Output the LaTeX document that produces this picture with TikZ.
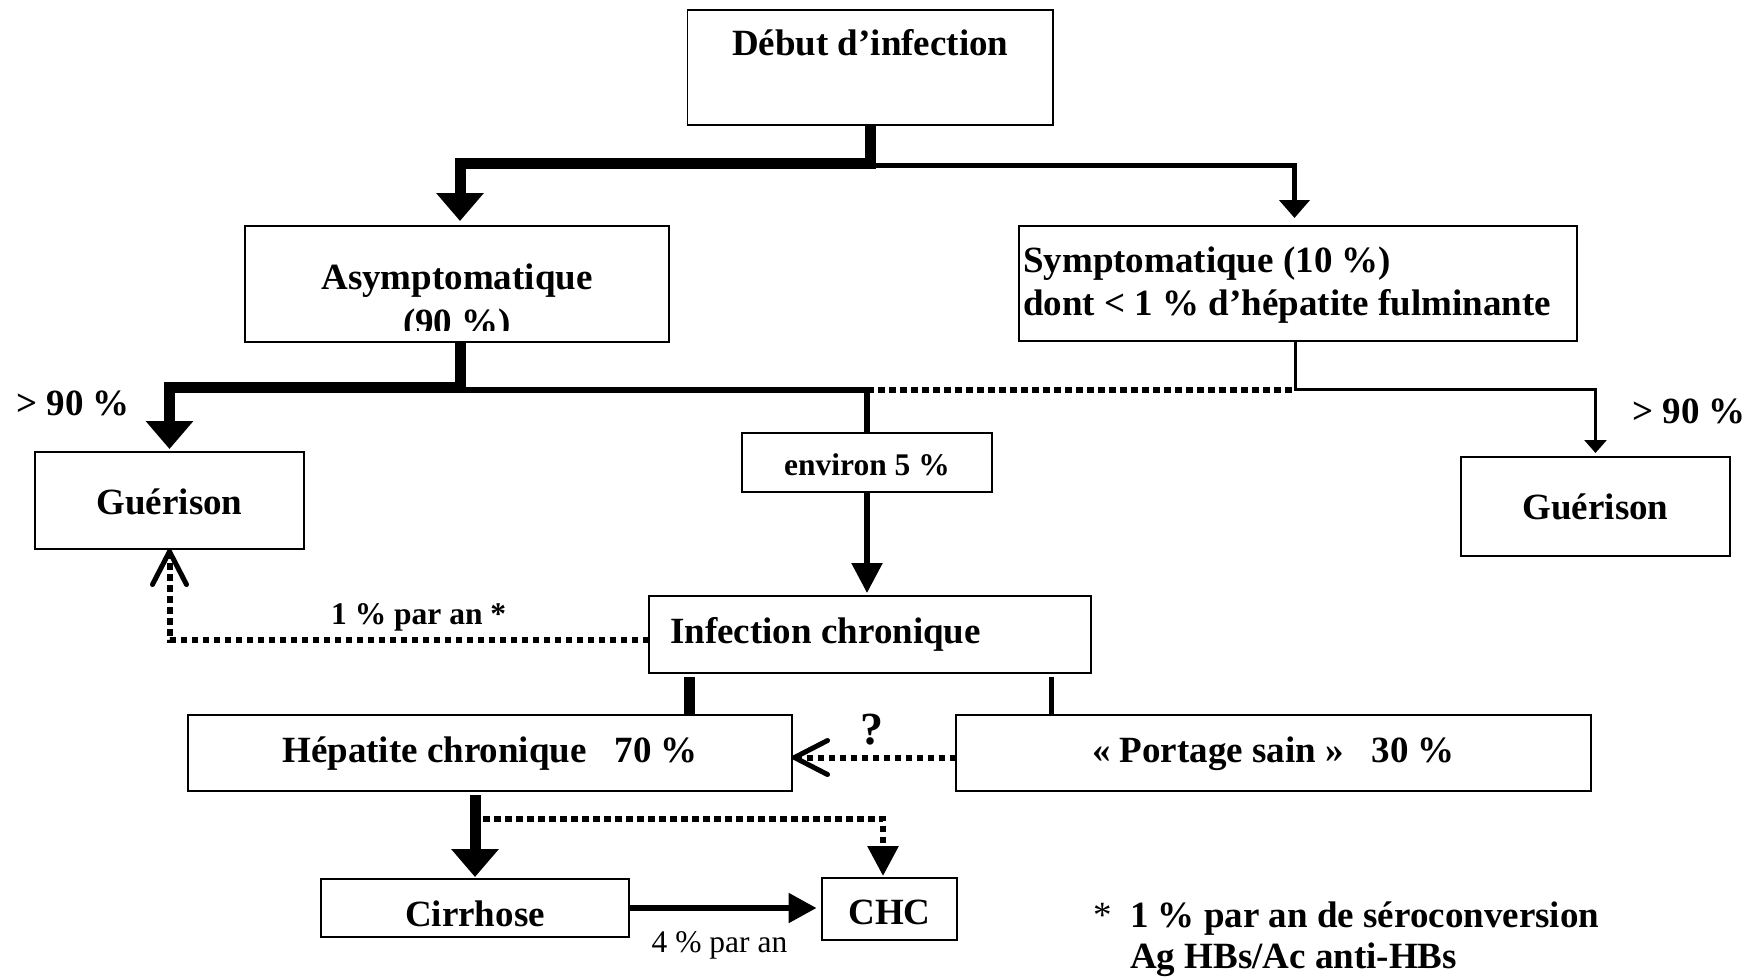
\documentclass[tikz,border=0pt]{standalone}
\usepackage{fontspec}
\setmainfont{Liberation Serif}
\usetikzlibrary{arrows.meta}
\begin{document}
\begin{tikzpicture}[x=1pt,y=-1pt,
  box/.style={draw,line width=1.8pt,fill=white,inner sep=0pt,outer sep=0pt},
  txt/.style={inner sep=0pt,anchor=base,font=\bfseries\fontsize{37}{44}\selectfont},
  txtl/.style={txt,anchor=base west},
  smalltxt/.style={inner sep=0pt,anchor=base west,font=\bfseries\fontsize{31.5}{38}\selectfont},
  smallreg/.style={inner sep=0pt,anchor=base west,font=\fontsize{31.5}{38}\selectfont},
  bigline/.style={line width=11pt,line join=miter},
  medline/.style={line width=5.5pt,line join=miter},
  thinline/.style={line width=3pt,line join=miter},
  dotline/.style={line width=6pt,dash pattern=on 6.5pt off 4.5pt},
  bigtip/.style={-{Triangle[width=46pt,length=28pt]}},
  toptip/.style={-{Triangle[width=30pt,length=18pt]}},
  medtip/.style={-{Triangle[width=30pt,length=30pt]}},
  smalltip/.style={-{Triangle[width=22pt,length=13pt]}},
  cirrtip/.style={-{Triangle[width=29pt,length=28pt]}},
  opentip/.style={-{Straight Barb[width=34pt,length=33pt,line width=5pt,round]}}
]
\useasboundingbox (0,0) rectangle (1762,978);
% boxes
\node[box,minimum width=365.5pt,minimum height=115pt] (debut) at (870.25,67.5) {};
\node[box,minimum width=424pt,minimum height=116pt] (asym) at (457,284) {};
\node[box,minimum width=558pt,minimum height=115pt] (sympt) at (1298,283.5) {};
\node[box,minimum width=269pt,minimum height=97pt] (guerL) at (169.5,500.5) {};
\node[box,minimum width=250pt,minimum height=59pt] (environ) at (867,462.5) {};
\node[box,minimum width=269pt,minimum height=99pt] (guerR) at (1595.5,506.5) {};
\node[box,minimum width=442pt,minimum height=77pt] (infect) at (870,634.5) {};
\node[box,minimum width=604pt,minimum height=76pt] (hepat) at (490,753) {};
\node[box,minimum width=635pt,minimum height=76pt] (portage) at (1273.5,753) {};
\node[box,minimum width=308pt,minimum height=58pt] (cirr) at (475,908) {};
\node[box,minimum width=135pt,minimum height=62pt] (chc) at (889.5,909) {};
% helper coordinates
\coordinate (c1) at (460,163.5);
\coordinate (c2) at (1294.5,165.5);
\coordinate (c3) at (169.5,387);
\coordinate (jE) at (867,390);
\coordinate (c4) at (1595.5,389.5);
\coordinate (hx) at (689.5,0);
\coordinate (px) at (1051.5,0);
\coordinate (sx) at (1295.5,0);
\coordinate (d1) at (483,818.5);
% connectors
\draw[medline,toptip] (debut.south) |- (c2) -- ([xshift=-3.5pt,yshift=8pt]sympt.north);
\draw[bigline,bigtip] (debut.south) |- (c1) -- ([xshift=3pt,yshift=5pt]asym.north);
\draw[medline] ([xshift=3pt]asym.south) |- (jE) -- (environ.north);
\draw[bigline,bigtip] ([xshift=3pt]asym.south) |- (c3) -- ([yshift=3pt]guerL.north);
\draw[dotline] (jE) -- (jE -| sx);
\draw[thinline,smalltip] (sympt.south -| sx) |- (c4) -- ([yshift=4pt]guerR.north);
\draw[medline,medtip,shorten >=3pt] (environ.south) -- (infect.north -| environ.south);
\draw[dotline,opentip] ([yshift=-5.5pt]infect.west) -| (guerL.south);
\draw[bigline,shorten <=4pt] (infect.south -| hx) -- (hepat.north -| hx);
\draw[medline,shorten <=4pt] (infect.south -| px) -- (portage.north -| px);
\draw[dotline,opentip] ([yshift=-4.5pt]portage.west) -- ([yshift=-4.5pt]hepat.east);
\draw[bigline,bigtip,shorten <=4pt,shorten >=2pt] (hepat.south -| cirr.north) -- (cirr.north);
\draw[dotline,medtip] (d1) -| ([xshift=-6.5pt,yshift=2pt]chc.north);
\draw[medline,cirrtip,shorten >=5.5pt] (cirr.east) -- (cirr.east -| chc.west);
% texts
\node[txt] (tdebut) at (870.25,55) {Début d’infection};
\node[txt] (tasym) at (457,289) {Asymptomatique};
\begin{scope}
\clip (245,226) rectangle (669,330);
\node[txt] (tasym2) at (457,334) {(90 \%)};
\end{scope}
\node[txtl] (ts1) at (1023,272) {Symptomatique (10 \%)};
\node[txtl] (ts2) at (1023,315) {dont < 1 \% d’hépatite fulminante};
\node[txtl] (tp1) at (16,415) {> 90 \%};
\node[txtl] (tp2) at (1632,423) {> 90 \%};
\node[txt] (tgl) at (169.5,514) {Guérison};
\node[txt] (tgr) at (1595.5,519) {Guérison};
\node[smalltxt,anchor=base] (tenv) at (867,475) {environ 5 \%};
\node[smalltxt] (tpar) at (331,624) {1 \% par an *};
\node[txtl] (tinf) at (670,643) {Infection chronique};
\node[txt] (thep) at (490,762) {Hépatite chronique\hspace{0.75em}70 \%};
\node[txt,font=\bfseries\fontsize{46}{52}\selectfont] (tq) at (872,744) {?};
\node[txt] (tport) at (1273.5,762) {«~Portage sain~»\hspace{0.75em}30 \%};
\node[txt] (tcirr) at (475,926) {Cirrhose};
\node[txt] (tchc) at (889.5,924) {CHC};
\node[smallreg] (t4) at (651.5,952) {4 \% par an};
\node[inner sep=0pt,anchor=base west,font=\fontsize{37}{44}\selectfont] (tstar) at (1093,927) {*};
\node[txtl] (tf1) at (1130,927) {1 \% par an de séroconversion};
\node[txtl] (tf2) at (1130,968) {Ag HBs/Ac anti-HBs};
\end{tikzpicture}
\end{document}
